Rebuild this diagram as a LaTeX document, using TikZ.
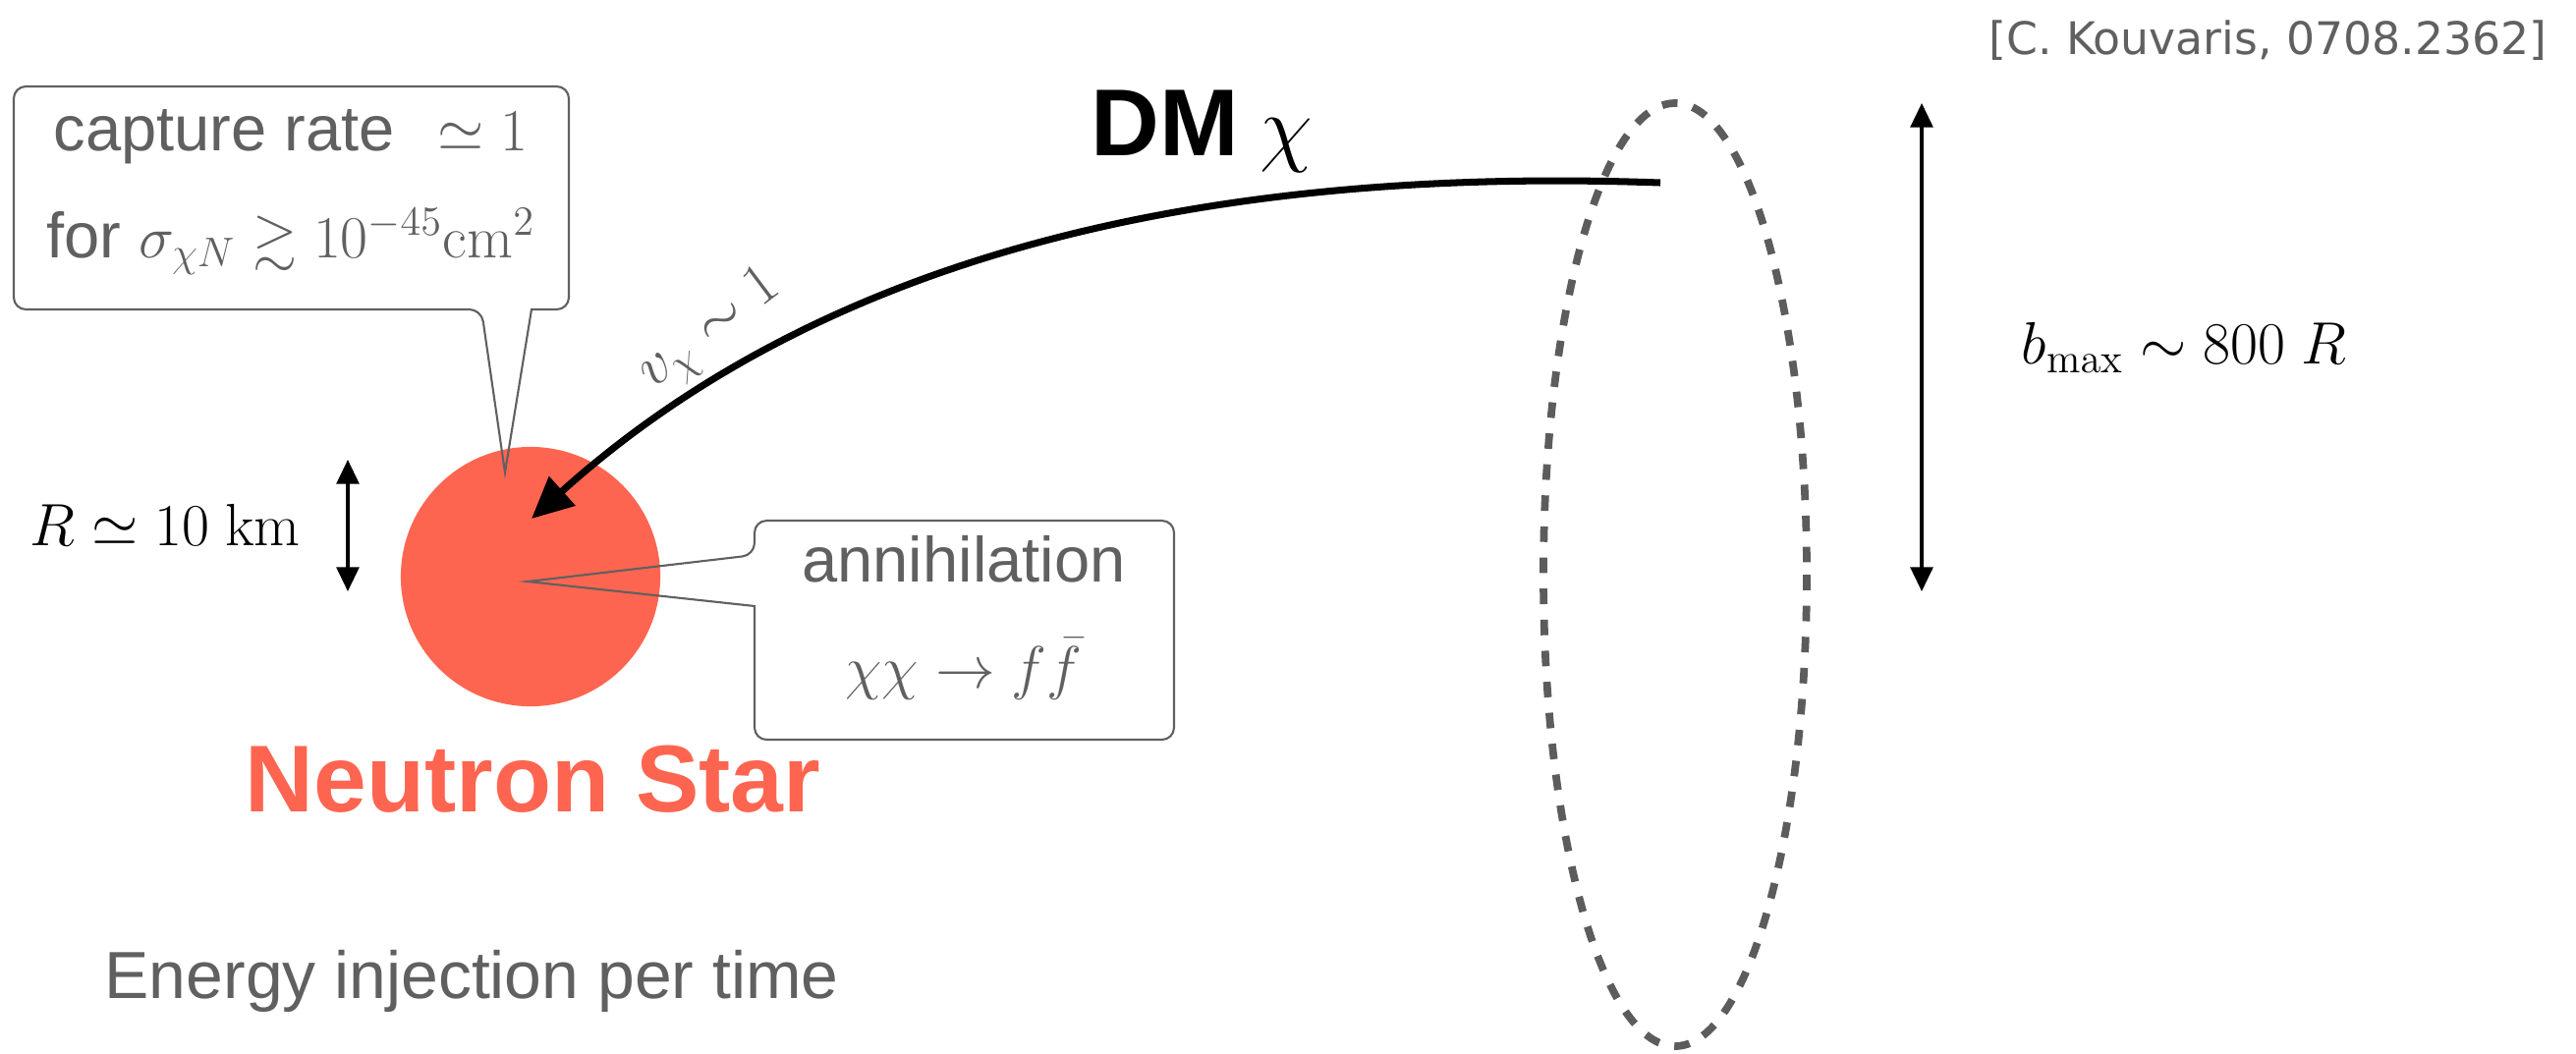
\documentclass[tikz,border=0pt]{standalone}
\usepackage{amsmath,amssymb}
\usepackage[no-math]{fontspec}
\setmainfont{Liberation Sans}
\newfontfamily\citefont{DejaVu Sans}
\usetikzlibrary{arrows.meta}
\definecolor{nsred}{HTML}{FE6550}
\definecolor{txtgray}{HTML}{606060}
\definecolor{dashgray}{HTML}{5C5C5C}
\newcommand{\mymath}[1]{{\fontsize{16.5}{20}\selectfont$#1$}}
\begin{document}
\begin{tikzpicture}[x=0.01cm,y=-0.01cm,
  graytext/.style={text=txtgray, font=\fontsize{18.5}{22}\selectfont, inner sep=0pt},
  mathtext/.style={inner sep=0pt, font=\fontsize{16.5}{20}\selectfont},
  callout/.style={draw=txtgray, line width=0.6pt, rounded corners=3.5pt},
  bigtip/.style={-{Triangle[length=12pt,width=11pt]}},
  dblarrow/.style={line width=0.9pt, {Triangle[length=7pt,width=6.5pt]}-{Triangle[length=7pt,width=6.5pt]}},
  ringstyle/.style={draw=dashgray, line width=2.2pt, dash pattern=on 4.5pt off 4.5pt}]
\useasboundingbox (0,0) rectangle (2622,1072);

% citation
\node[inner sep=0pt, anchor=base east, text=txtgray, font=\citefont\fontsize{13}{15}\selectfont] (cite) at (2593,55) {[C. Kouvaris, 0708.2362]};

% dashed ring
\draw[ringstyle] (1705,585) ellipse [x radius=134, y radius=480];

% neutron star
\node[circle, fill=nsred, minimum size=2.64cm, inner sep=0pt] (ns) at (540,587) {};

% capture callout
\draw[callout] (541,315) -- (579,315) -- (579,88) -- (14,88) -- (14,315) -- (490,315) [sharp corners] -- (514,481) -- cycle;
\node[graytext, anchor=base] (cap1) at (296,153) {capture rate\hspace{2.5pt} \mymath{{}\simeq 1}};
\node[graytext, anchor=base] (cap2) at (296,262) {for \mymath{\sigma_{\chi N} \gtrsim 10^{-45}\mathrm{cm}^2}};

% annihilation callout
\draw[callout] (768,617) -- (768,753) -- (1195,753) -- (1195,530) -- (768,530) -- (768,565) [sharp corners] -- (537,592) -- cycle;
\node[graytext, anchor=base] (ann1) at (981,592) {annihilation};
\node[mathtext, anchor=base, text=txtgray] (ann2) at (981,700) {$\chi\chi \to f\bar{f}$};

% labels
\node[inner sep=0pt, anchor=base west, text=nsred, font=\bfseries\fontsize{27.5}{32}\selectfont] (nslabel) at (249,826) {Neutron Star};
\node[inner sep=0pt, anchor=base west, font=\bfseries\fontsize{27.5}{32}\selectfont] (dmlabel) at (1110,158) {DM\hspace{6pt}{\fontsize{37}{40}\selectfont$\chi$}};
\node[mathtext, anchor=base west] (rlabel) at (30,555) {$R \simeq 10\ \mathrm{km}$};
\node[mathtext, anchor=base west] (blabel) at (2057,370) {$b_{\mathrm{max}} \sim 800\ R$};
\node[mathtext, text=txtgray, rotate=37] (vlabel) at (724,338) {$v_\chi \sim 1$};
\node[graytext, anchor=base west, font=\fontsize{19.3}{23}\selectfont] (energy) at (106,1016) {Energy injection per time};

% arrows
\coordinate (dmstart) at (1690,186);
\coordinate (dmend) at (541,528);
\draw[line width=2pt, bigtip] (dmstart) .. controls (1250,170) and (850,250) .. (dmend);

\coordinate (rtop) at (354,468);
\coordinate (rbot) at (354,602);
\draw[dblarrow] (rtop) -- (rbot);

\coordinate (btop) at (1956,105);
\coordinate (bbot) at (1956,602);
\draw[dblarrow] (btop) -- (bbot);
\end{tikzpicture}
\end{document}
